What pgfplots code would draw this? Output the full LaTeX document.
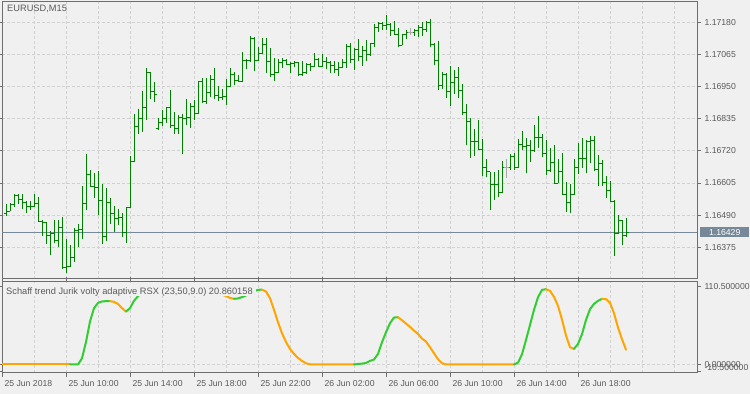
\documentclass[border=0pt]{standalone}
\usepackage{fontspec}
\setmainfont{Liberation Sans}
\usepackage{pgfplots}
\usepackage{pgfplotstable}
\pgfplotsset{compat=1.18}
\definecolor{bg}{HTML}{F0F0F0}
\definecolor{bargreen}{HTML}{008000}
\definecolor{limeg}{HTML}{32CD32}
\definecolor{orng}{HTML}{FFA500}
\definecolor{gridc}{HTML}{D0D0D0}
\definecolor{framec}{HTML}{6E6E6E}
\definecolor{txt}{HTML}{5A5A5A}
\definecolor{slate}{HTML}{778899}
\definecolor{dojic}{HTML}{A8A8A8}

\pgfdeclareplotmark{otick}{\pgfpathmoveto{\pgfpoint{-2.5bp}{0pt}}\pgfpathlineto{\pgfpoint{0pt}{0pt}}\pgfusepathqstroke}
\pgfdeclareplotmark{ctick}{\pgfpathmoveto{\pgfpoint{0pt}{0pt}}\pgfpathlineto{\pgfpoint{2.5bp}{0pt}}\pgfusepathqstroke}

\pgfplotstableread{
k o h l c
1 1.16495 1.16531 1.16486 1.16504
2 1.16504 1.16534 1.16504 1.16527
3 1.16527 1.16567 1.16518 1.16560
4 1.16560 1.16567 1.16531 1.16545
5 1.16545 1.16564 1.16513 1.16534
6 1.16534 1.16542 1.16498 1.16521
7 1.16521 1.16542 1.16507 1.16522
8 1.16522 1.16567 1.16518 1.16531
9 1.16531 1.16554 1.16465 1.16468
10 1.16468 1.16473 1.16414 1.16462
11 1.16462 1.16465 1.16387 1.16417
12 1.16417 1.16432 1.16348 1.16425
13 1.16425 1.16474 1.16391 1.16399
14 1.16399 1.16471 1.16375 1.16445
15 1.16445 1.16483 1.16297 1.16303
16 1.16303 1.16403 1.16283 1.16307
17 1.16307 1.16385 1.16303 1.16337
18 1.16337 1.16443 1.16321 1.16435
19 1.16435 1.16457 1.16375 1.16437
20 1.16437 1.16596 1.16403 1.16531
21 1.16531 1.16708 1.16510 1.16636
22 1.16636 1.16650 1.16590 1.16593
23 1.16593 1.16640 1.16551 1.16588
24 1.16588 1.16647 1.16492 1.16541
25 1.16541 1.16600 1.16387 1.16413
26 1.16413 1.16587 1.16399 1.16536
27 1.16536 1.16553 1.16459 1.16495
28 1.16495 1.16522 1.16429 1.16477
29 1.16477 1.16513 1.16453 1.16480
30 1.16480 1.16497 1.16411 1.16429
31 1.16429 1.16518 1.16391 1.16516
32 1.16516 1.16700 1.16515 1.16683
33 1.16683 1.16851 1.16680 1.16808
34 1.16808 1.16869 1.16779 1.16836
35 1.16836 1.16933 1.16787 1.16875
36 1.16875 1.17018 1.16829 1.17002
37 1.17002 1.17002 1.16907 1.16933
38 1.16933 1.16967 1.16895 1.16923
39 1.16800 1.16839 1.16794 1.16821
40 1.16821 1.16865 1.16808 1.16836
41 1.16836 1.16877 1.16818 1.16875
42 1.16875 1.16937 1.16801 1.16810
43 1.16810 1.16859 1.16779 1.16801
44 1.16801 1.16847 1.16779 1.16839
45 1.16839 1.16851 1.16707 1.16837
46 1.16837 1.16905 1.16811 1.16839
47 1.16839 1.16891 1.16801 1.16877
48 1.16877 1.16901 1.16829 1.16853
49 1.16853 1.16970 1.16853 1.16969
50 1.16969 1.16979 1.16891 1.16898
51 1.16898 1.16979 1.16887 1.16929
52 1.16929 1.16993 1.16913 1.16975
53 1.16975 1.17018 1.16904 1.16918
54 1.16918 1.16951 1.16899 1.16911
55 1.16911 1.16943 1.16901 1.16916
56 1.16916 1.16976 1.16883 1.16949
57 1.16949 1.17018 1.16949 1.16994
58 1.16994 1.17003 1.16954 1.16970
59 1.16970 1.16992 1.16966 1.16969
60 1.16969 1.17072 1.16966 1.17042
61 1.17042 1.17047 1.17013 1.17045
62 1.17045 1.17131 1.17037 1.17122
63 1.17122 1.17128 1.17006 1.17042
64 1.17042 1.17090 1.17042 1.17069
65 1.17069 1.17124 1.17066 1.17100
66 1.17100 1.17124 1.16997 1.17039
67 1.17039 1.17087 1.16985 1.16994
68 1.16994 1.17051 1.16970 1.17001
69 1.17001 1.17047 1.16997 1.17036
70 1.17036 1.17051 1.17015 1.17045
71 1.17045 1.17047 1.17027 1.17030
72 1.17030 1.17039 1.16999 1.17032
73 1.17032 1.17042 1.17021 1.17036
74 1.17036 1.17039 1.16991 1.16993
75 1.16993 1.17042 1.16988 1.17001
76 1.17001 1.17033 1.16994 1.17030
77 1.17030 1.17036 1.17006 1.17021
78 1.17021 1.17069 1.17021 1.17047
79 1.17047 1.17051 1.17021 1.17023
80 1.17023 1.17065 1.17021 1.17041
81 1.17041 1.17057 1.17013 1.17036
82 1.17036 1.17042 1.16999 1.17027
83 1.17027 1.17042 1.16997 1.17012
84 1.17012 1.17039 1.16988 1.17018
85 1.17018 1.17048 1.17018 1.17036
86 1.17036 1.17101 1.17018 1.17095
87 1.17095 1.17105 1.17033 1.17048
88 1.17048 1.17089 1.17009 1.17081
89 1.17081 1.17122 1.17042 1.17057
90 1.17057 1.17095 1.17024 1.17078
91 1.17078 1.17116 1.17042 1.17063
92 1.17063 1.17107 1.17060 1.17105
93 1.17105 1.17174 1.17092 1.17162
94 1.17162 1.17182 1.17146 1.17176
95 1.17176 1.17182 1.17152 1.17167
96 1.17167 1.17206 1.17152 1.17173
97 1.17173 1.17176 1.17132 1.17149
98 1.17149 1.17185 1.17134 1.17137
99 1.17137 1.17158 1.17092 1.17098
100 1.17098 1.17138 1.17098 1.17137
101 1.17137 1.17152 1.17120 1.17144
103 1.17144 1.17155 1.17132 1.17149
104 1.17149 1.17170 1.17128 1.17162
105 1.17162 1.17180 1.17132 1.17155
106 1.17155 1.17185 1.17146 1.17180
107 1.17180 1.17191 1.17092 1.17102
108 1.17102 1.17107 1.17027 1.17045
109 1.17045 1.17113 1.16937 1.16955
110 1.16955 1.17003 1.16941 1.16994
111 1.16994 1.16997 1.16909 1.16931
112 1.16931 1.17023 1.16881 1.16963
113 1.16963 1.17011 1.16925 1.16983
114 1.16983 1.17021 1.16909 1.16937
115 1.16937 1.16961 1.16850 1.16857
116 1.16857 1.16886 1.16741 1.16826
117 1.16826 1.16836 1.16696 1.16754
118 1.16754 1.16797 1.16703 1.16755
119 1.16755 1.16829 1.16722 1.16725
120 1.16725 1.16761 1.16630 1.16662
121 1.16662 1.16692 1.16626 1.16646
122 1.16646 1.16646 1.16509 1.16599
123 1.16599 1.16644 1.16545 1.16601
124 1.16601 1.16650 1.16554 1.16572
125 1.16572 1.16682 1.16570 1.16660
127 1.16660 1.16708 1.16650 1.16700
128 1.16700 1.16712 1.16653 1.16660
129 1.16660 1.16761 1.16660 1.16742
130 1.16742 1.16790 1.16724 1.16736
131 1.16736 1.16767 1.16640 1.16738
132 1.16738 1.16758 1.16680 1.16721
133 1.16721 1.16811 1.16715 1.16767
134 1.16767 1.16844 1.16731 1.16769
135 1.16769 1.16779 1.16698 1.16710
136 1.16710 1.16760 1.16632 1.16649
137 1.16649 1.16730 1.16644 1.16678
138 1.16678 1.16742 1.16602 1.16605
139 1.16605 1.16690 1.16605 1.16646
140 1.16646 1.16714 1.16563 1.16565
141 1.16565 1.16608 1.16501 1.16534
142 1.16534 1.16600 1.16497 1.16563
143 1.16563 1.16690 1.16563 1.16660
144 1.16660 1.16749 1.16638 1.16691
145 1.16691 1.16767 1.16660 1.16694
146 1.16694 1.16760 1.16640 1.16754
147 1.16754 1.16772 1.16678 1.16756
148 1.16756 1.16772 1.16650 1.16653
149 1.16653 1.16706 1.16594 1.16674
150 1.16674 1.16686 1.16593 1.16606
151 1.16606 1.16629 1.16552 1.16578
152 1.16578 1.16612 1.16539 1.16539
153 1.16539 1.16545 1.16343 1.16425
154 1.16425 1.16492 1.16421 1.16471
155 1.16471 1.16474 1.16385 1.16417
156 1.16417 1.16480 1.16411 1.16429
}\bars

\pgfplotstableread{
k o h l c
102 1.17144 1.17158 1.17134 1.17144
126 1.16660 1.16690 1.16623 1.16660
}\doji

\pgfplotstableread{
k v
0 0
1 0
2 0
3 0
4 0
5 0
6 0
7 0
8 0
9 0
10 0
11 0
12 0
13 0
14 0
15 0
16 0
17 0
18 0
19 0
20 8.8
21 32
22 61
23 80
24 87.5
25 89.5
26 90
27 90
28 89
29 86
30 80
31 75.2
32 80
33 90.5
34 97
35 102
36 105
37 107
38 108.5
39 109
40 109.5
41 109.5
42 109
43 109
44 109
45 108.5
46 108.5
47 108
48 108
49 107.5
50 107
51 106
52 104.5
53 102.5
54 100.5
55 99
56 97.5
57 94.6
58 93.3
59 93.8
60 95.7
61 98
62 101
63 104
64 106.1
65 106.3
66 103.7
67 94.2
68 77.6
69 60
70 44.3
71 32
72 22
73 15
74 9.3
75 5
76 1.7
77 0.2
78 0
79 0
80 0
81 0
82 0
83 0
84 0
85 0
86 0
87 0
88 0
89 0.7
90 1.2
91 2.1
92 5
93 7
94 15
95 31.5
96 45.8
97 58.6
98 66.7
99 67.2
100 62.8
101 58.1
102 53.4
103 48.1
104 43.4
105 36.8
106 32.5
107 24.5
108 15.9
109 7.4
110 1.7
111 0.2
112 0
113 0
114 0
115 0
116 0
117 0
118 0
119 0
120 0
121 0
122 0
123 0
124 0
125 0
126 0
127 0
128 0
129 2.6
130 14.4
131 34.9
132 56.2
133 77.6
134 95.6
135 106
136 107
137 104.6
138 96.1
139 83.3
140 63.8
141 41
142 24.5
143 22.1
144 29.2
145 43
146 63.3
147 78.5
148 86.1
149 90.4
150 93.3
151 92.8
152 87.6
153 72.9
154 52.5
155 35.9
156 20.86
}\ind

\pgfplotsset{
  mtaxis/.style={
    scale only axis, width=695bp, anchor=south west,
    xmin=0, xmax=173.75, enlargelimits=false,
    axis line style={framec, line width=1bp},
    grid style={gridc, line width=1bp, dash pattern=on 3bp off 2bp},
    minor grid style={gridc, line width=1bp, dash pattern=on 3bp off 2bp},
    tick style={framec, line width=1bp},
    tick align=outside,
    ticklabel style={font=\fontsize{8.7}{10}\selectfont, text=txt},
  },
  ohlc/.style={only marks, mark=ctick, mark options={draw=#1, line width=1bp},
    error bars/.cd, y dir=both, y explicit, error mark=none,
    error bar style={draw=#1, line width=1bp}},
  opentick/.style={only marks, mark=otick, mark options={draw=#1, line width=1bp}},
}

\begin{document}
\begin{tikzpicture}
\fill[bg] (0bp,0bp) rectangle (750bp,394bp);
\useasboundingbox (0bp,0bp) rectangle (750bp,394bp);

% ---------- price panel ----------
\begin{axis}[mtaxis, at={(2bp,115bp)}, height=277bp,
  ymin=1.162616, ymax=1.172526,
  xtick={0,8,...,168}, xticklabels={}, xmajorgrids, major x tick style={draw=none},
  ytick={1.16375,1.16490,1.16605,1.16720,1.16835,1.16950,1.17065,1.17180},
  yticklabels={1.16375,1.16490,1.16605,1.16720,1.16835,1.16950,1.17065,1.17180},
  ymajorgrids, yticklabel pos=right, major tick length=4bp,
  yticklabel style={anchor=west},
]
\addplot[slate, line width=1bp] coordinates {(0,1.16429) (173.75,1.16429)};
\coordinate (pl) at (axis cs:173.75,1.16429);
\addplot[ohlc=bargreen] table[x=k, y=c,
  y error plus expr={\thisrow{h}-\thisrow{c}}, y error minus expr={\thisrow{c}-\thisrow{l}}] {\bars};
\addplot[opentick=bargreen] table[x=k, y=o] {\bars};
\addplot[ohlc=dojic] table[x=k, y=c,
  y error plus expr={\thisrow{h}-\thisrow{c}}, y error minus expr={\thisrow{c}-\thisrow{l}}] {\doji};
\addplot[opentick=dojic] table[x=k, y=o] {\doji};
\end{axis}
\node[anchor=west, xshift=3bp, fill=slate, text=white, inner sep=0pt,
  minimum width=49bp, minimum height=10.5bp, font=\fontsize{8.7}{10}\selectfont] at (pl) {1.16429};
\node[anchor=base west, inner sep=0pt, text=txt, font=\fontsize{9.3}{11}\selectfont] at (7bp,382bp) {EURUSD,M15};

% ---------- indicator panel ----------
\begin{axis}[mtaxis, at={(2bp,21.3bp)}, height=91.4bp,
  ymin=-11.7, ymax=118.2,
  xtick={0,16,...,144},
  xticklabels={25 Jun 2018,25 Jun 10:00,25 Jun 14:00,25 Jun 18:00,25 Jun 22:00,26 Jun 02:00,26 Jun 06:00,26 Jun 10:00,26 Jun 14:00,26 Jun 18:00},
  minor xtick={8,24,40,56,72,88,104,120,136,152,160,168},
  xmajorgrids, xminorgrids, major tick length=4bp, minor tick length=0pt,
  xticklabel style={anchor=north west, xshift=-1bp},
  ytick={0,110.5}, yticklabels={0.000000,110.500000},
  extra y ticks={-10.5}, extra y tick labels={-10.500000},
  extra y tick style={yticklabel style={yshift=4.4bp}},
  yticklabel pos=right, yticklabel style={anchor=west},
]
\addplot[gridc, line width=1bp, dash pattern=on 3bp off 2bp] coordinates {(0,0) (173.75,0)};
\pgfplotsset{ind/.style={line width=2bp, line join=round, line cap=round}}
\addplot[ind, orng, restrict x to domain=0:17] table[x=k,y=v] {\ind};
\addplot[ind, limeg, restrict x to domain=17:27] table[x=k,y=v] {\ind};
\addplot[ind, orng, restrict x to domain=27:31] table[x=k,y=v] {\ind};
\addplot[ind, limeg, restrict x to domain=31:40] table[x=k,y=v] {\ind};
\addplot[ind, orng, restrict x to domain=40:58] table[x=k,y=v] {\ind};
\addplot[ind, limeg, restrict x to domain=58:65] table[x=k,y=v] {\ind};
\addplot[ind, orng, restrict x to domain=65:88] table[x=k,y=v] {\ind};
\addplot[ind, limeg, restrict x to domain=88:99] table[x=k,y=v] {\ind};
\addplot[ind, orng, restrict x to domain=99:128] table[x=k,y=v] {\ind};
\addplot[ind, limeg, restrict x to domain=128:136] table[x=k,y=v] {\ind};
\addplot[ind, orng, restrict x to domain=136:143] table[x=k,y=v] {\ind};
\addplot[ind, limeg, restrict x to domain=143:150] table[x=k,y=v] {\ind};
\addplot[ind, orng, restrict x to domain=150:156] table[x=k,y=v] {\ind};
\end{axis}
\fill[bg] (5bp,97.8bp) rectangle (256bp,110.5bp);
\node[anchor=base west, inner sep=0pt, text=txt, font=\fontsize{9.3}{11}\selectfont] at (6bp,99.7bp)
  {Schaff trend Jurik volty adaptive RSX (23,50,9.0) 20.860158};
\end{tikzpicture}
\end{document}
